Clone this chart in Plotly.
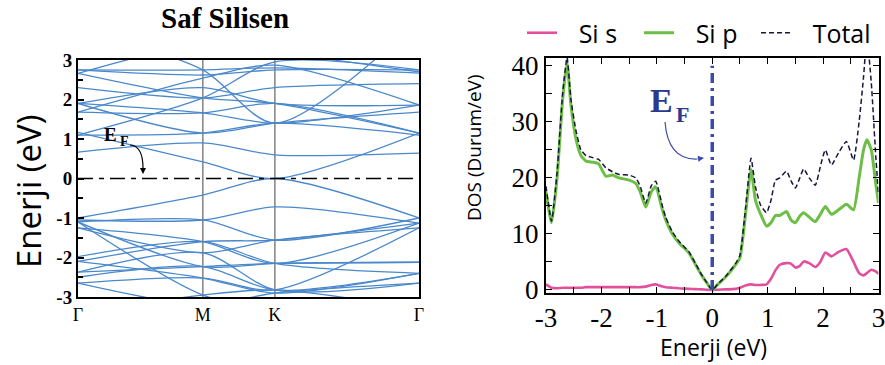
import plotly.graph_objects as go

W, H = 885, 365

# ---------------- Band structure (left) ----------------
k_labels = ["Γ", "M", "K", "Γ"]
k_points = [0.0, 0.866, 1.366, 2.366]
EF = 0.0

# band energies (eV) at Γ, M, K, Γ
conduction_bands = [
    [1.17, 0.42, 0.00, 1.15],
    [0.67, 0.90, 0.60, 0.64],
    [1.10, 1.15, 1.40, 1.10],
    [1.90, 1.15, 1.40, 1.68],
    [1.68, 1.66, 1.90, 1.15],
    [1.68, 2.54, 2.87, 1.86],
    [1.90, 2.30, 1.90, 1.86],
    [2.66, 2.04, 1.90, 1.15],
    [2.75, 2.62, 2.75, 2.75],
    [2.75, 2.75, 2.80, 2.67],
    [2.66, 3.40, 3.20, 2.70],
    [3.80, 2.75, 1.40, 4.00],
    [1.10, 2.04, 2.95, 2.75],
    [2.30, 2.04, 2.30, 2.40],
    [1.90, 1.66, 1.40, 1.86],
]
valence_bands = [
    [-1.00, -0.42, 0.00, -1.00],
    [-1.05, -1.05, -0.72, -1.13],
    [-1.10, -1.05, -1.56, -1.00],
    [-1.25, -1.88, -1.56, -1.25],
    [-1.10, -2.23, -2.15, -2.12],
    [-2.10, -1.60, -1.56, -1.13],
    [-1.98, -1.60, -2.15, -2.40],
    [-2.37, -1.88, -2.82, -2.65],
    [-2.37, -2.23, -2.15, -2.12],
    [-2.65, -2.52, -2.82, -1.25],
    [-2.65, -3.20, -2.90, -2.65],
    [-1.10, -2.95, -3.30, -3.30],
    [-2.10, -2.52, -2.90, -2.40],
    [-3.40, -2.95, -2.82, -3.30],
    [-1.25, -1.60, -2.15, -1.13],
    [-2.50, -2.23, -2.82, -2.40],
]

# ---------------- DOS (right) ----------------
energy = [-3.0, -2.9, -2.8, -2.7, -2.62, -2.55, -2.46, -2.37, -2.28, -2.15,
          -2.05, -1.92, -1.8, -1.68, -1.5, -1.38, -1.3, -1.2, -1.1, -1.02,
          -0.9, -0.84, -0.72, -0.6, -0.42, -0.3, -0.19, -0.1, 0.0, 0.1,
          0.24, 0.42, 0.5, 0.6, 0.7, 0.78, 0.87, 0.98, 1.06, 1.14,
          1.22, 1.34, 1.42, 1.5, 1.58, 1.65, 1.75, 1.86, 1.95, 2.04,
          2.15, 2.28, 2.42, 2.55, 2.65, 2.73, 2.79, 2.87, 2.95, 3.0]
dos_si_s = [1.0, 0.4, 0.3, 0.4, 0.4, 0.4, 0.4, 0.4, 0.5, 0.5,
            0.5, 0.5, 0.5, 0.5, 0.5, 0.5, 0.5, 0.6, 0.9, 1.0,
            0.6, 0.5, 0.4, 0.3, 0.2, 0.15, 0.1, 0.05, 0.0, 0.05,
            0.1, 0.2, 0.4, 0.8, 1.0, 0.9, 0.9, 1.0, 2.0, 3.5,
            4.5, 4.8, 4.7, 4.0, 4.3, 5.1, 4.8, 4.1, 5.0, 6.7,
            6.0, 6.8, 7.3, 5.0, 3.0, 2.6, 3.0, 3.6, 3.3, 2.9]
dos_si_p = [17.5, 12.0, 20.0, 34.0, 40.5, 33.0, 27.0, 24.0, 23.0, 22.8,
            22.5, 20.3, 20.5, 20.0, 19.6, 19.0, 17.5, 14.8, 17.5, 18.4,
            14.3, 12.5, 10.0, 8.4, 6.6, 4.5, 2.6, 1.3, 0.0, 1.0,
            2.3, 4.5, 5.7, 13.5, 21.5, 16.0, 13.6, 11.4, 12.0, 13.3,
            13.3, 14.0, 12.5, 12.0, 13.2, 13.8, 13.0, 12.2, 13.5, 14.9,
            13.5, 14.3, 15.3, 14.3, 20.0, 25.0, 26.8, 25.0, 19.0, 15.5]
dos_total = [18.5, 12.3, 21.0, 35.0, 41.5, 34.0, 28.5, 25.0, 24.0, 23.6,
             23.3, 21.8, 21.1, 20.6, 20.5, 20.0, 18.5, 15.5, 18.6, 19.4,
             15.0, 13.0, 10.4, 8.7, 6.8, 4.7, 2.7, 1.35, 0.0, 1.05,
             2.4, 4.7, 6.2, 14.5, 23.5, 18.4, 15.2, 13.8, 16.0, 19.6,
             20.0, 21.2, 19.5, 18.2, 20.0, 21.6, 20.0, 18.7, 22.0, 25.0,
             22.3, 24.5, 26.5, 23.2, 30.0, 38.0, 45.0, 37.0, 24.0, 17.0]
dos_xticks = [-3, -2, -1, 0, 1, 2, 3]
dos_xticklabels = ["-3", "-2", "-1", "0", "1", "2", "3"]
dos_yticks = [0, 10, 20, 30, 40]
band_yticks = [-3, -2, -1, 0, 1, 2, 3]
band_yticklabels = ["-3", "-2", "-1", "0", "1", "2", "3"]

SERIF = "Liberation Serif"
SANS = "Open Sans"
BAND_COLOR = "#4a88cc"
GAP = "\u2002\u2009"  # spacing between legend line sample and its label


def px(x):
    return x / W


def py(y):
    return 1 - y / H


fig = go.Figure()

for b in conduction_bands + valence_bands:
    fig.add_trace(go.Scatter(x=k_points, y=b, mode="lines", showlegend=False,
                             line=dict(color=BAND_COLOR, width=1.3, shape="spline", smoothing=0.8),
                             xaxis="x", yaxis="y", hoverinfo="skip"))

fig.add_trace(go.Scatter(x=energy, y=dos_si_s, mode="lines", name=GAP + "Si s",
                         line=dict(color="#e2509d", width=2.6, shape="spline", smoothing=0.5),
                         xaxis="x2", yaxis="y2"))
fig.add_trace(go.Scatter(x=energy, y=dos_si_p, mode="lines", name=GAP + "Si p",
                         line=dict(color="#6dbe45", width=3, shape="spline", smoothing=0.5),
                         xaxis="x2", yaxis="y2"))
fig.add_trace(go.Scatter(x=energy, y=dos_total, mode="lines", name=GAP + "Total",
                         line=dict(color="#16163f", width=1.5, dash="5px,3px", shape="spline", smoothing=0.5),
                         xaxis="x2", yaxis="y2"))

shapes = []
for kp in k_points[1:3]:
    shapes.append(dict(type="line", xref="x", yref="paper", x0=kp, x1=kp,
                       y0=py(297), y1=py(60), line=dict(color="#8a8a8a", width=1.6), layer="below"))
shapes.append(dict(type="line", xref="paper", yref="y", x0=px(78), x1=px(419), y0=EF, y1=EF,
                   line=dict(color="black", width=1.3, dash="15px,6px,5px,6px")))
shapes.append(dict(type="line", xref="x2", yref="y2", x0=EF, x1=EF, y0=0, y1=40,
                   line=dict(color="#3a4ba8", width=3.5, dash="10px,5px,3px,5px")))
shapes.append(dict(type="path", xref="paper", yref="paper",
                   path=f"M {px(130)},{py(145)} Q {px(143)},{py(146)} {px(143)},{py(168)}",
                   line=dict(color="black", width=1.2)))
shapes.append(dict(type="path", xref="paper", yref="paper",
                   path=f"M {px(665)},{py(122)} Q {px(668)},{py(160)} {px(697)},{py(159)}",
                   line=dict(color="#3a4ba8", width=1.2)))


def ann(text, x, y, size, family, color="black", angle=0):
    return dict(text=text, x=px(x), y=py(y), xref="paper", yref="paper",
                xanchor="center", yanchor="middle", textangle=angle,
                showarrow=False, font=dict(family=family, size=size, color=color))


annotations = [
    ann("<b>Saf Silisen</b>", 225, 18, 29, SERIF),
    ann("Enerji (eV)", 29, 191, 33, SANS, angle=-90),
    ann("DOS (Durum/eV)", 474, 148, 19, SANS, angle=-90),
    ann("Enerji (eV)", 713, 347, 23, SANS),
    ann("<b>E</b>", 110, 134, 19, SERIF),
    ann("<b>F</b>", 124, 142, 14, SERIF),
    ann("<b>E</b>", 661, 101, 34, SERIF, color="#2b3a8f"),
    ann("<b>F</b>", 682, 114, 22, SERIF, color="#2b3a8f"),
    dict(text="", x=px(143), y=py(174), xref="paper", yref="paper", showarrow=True,
         ax=0, ay=-7, arrowhead=2, arrowsize=1, arrowwidth=1.2, arrowcolor="black"),
    dict(text="", x=px(704), y=py(158), xref="paper", yref="paper", showarrow=True,
         ax=-8, ay=1, arrowhead=2, arrowsize=1, arrowwidth=1.2, arrowcolor="#3a4ba8"),
]

fig.update_layout(
    template="none",
    width=W, height=H, margin=dict(l=0, r=0, t=0, b=0, autoexpand=False),
    paper_bgcolor="white", plot_bgcolor="white",
    shapes=shapes, annotations=annotations,
    showlegend=True,
    legend=dict(orientation="h", x=px(522), y=py(33), xanchor="left", yanchor="middle",
                font=dict(family=SANS, size=25, color="black"), bgcolor="rgba(0,0,0,0)",
                entrywidth=72, entrywidthmode="pixels"),
    xaxis=dict(domain=[px(78), px(419)], range=[k_points[0], k_points[-1]],
               tickvals=k_points, ticktext=k_labels, ticks="", automargin=False,
               tickfont=dict(family=SERIF, size=18, color="black"),
               ticklabeloverflow="allow",
               showline=True, linecolor="black", linewidth=2, mirror=True,
               showgrid=False, zeroline=False, anchor="y"),
    yaxis=dict(domain=[py(297), py(60)], range=[-3, 3], automargin=False,
               tickvals=band_yticks, ticktext=band_yticklabels,
               ticks="inside", ticklen=6, tickwidth=1.5, tickcolor="black",
               minor=dict(dtick=0.5, ticks="inside", ticklen=5, tickwidth=1.5, tickcolor="black"),
               tickfont=dict(family=SERIF, size=19, color="black", weight="bold"),
               ticklabeloverflow="allow",
               showline=True, linecolor="black", linewidth=2, mirror=True,
               showgrid=False, zeroline=False, anchor="x"),
    xaxis2=dict(domain=[px(546), px(878.5)], range=[-3, 3], automargin=False,
                tickvals=dos_xticks, ticktext=dos_xticklabels,
                ticks="inside", ticklen=6, tickwidth=1.2, tickcolor="black",
                minor=dict(dtick=0.5, ticks="inside", ticklen=6, tickwidth=1.2, tickcolor="black"),
                tickfont=dict(family=SERIF, size=27, color="black"),
                ticklabeloverflow="allow",
                showline=True, linecolor="black", linewidth=2, mirror="ticks",
                showgrid=False, zeroline=False, anchor="y2"),
    yaxis2=dict(domain=[py(293), py(58)], range=[-0.54, 41.4], automargin=False,
                tickvals=dos_yticks,
                ticks="inside", ticklen=6, tickwidth=1.2, tickcolor="black",
                minor=dict(dtick=5, ticks="inside", ticklen=6, tickwidth=1.2, tickcolor="black"),
                tickfont=dict(family=SERIF, size=27, color="black"),
                ticklabeloverflow="allow",
                showline=True, linecolor="black", linewidth=2, mirror="ticks",
                showgrid=False, zeroline=False, anchor="x2"),
)

# remove the browser's default 8px body margin so the figure fills the window exactly
fig.write_html("out.html", config={"displayModeBar": False},
               post_script="document.body.style.margin='0';")
